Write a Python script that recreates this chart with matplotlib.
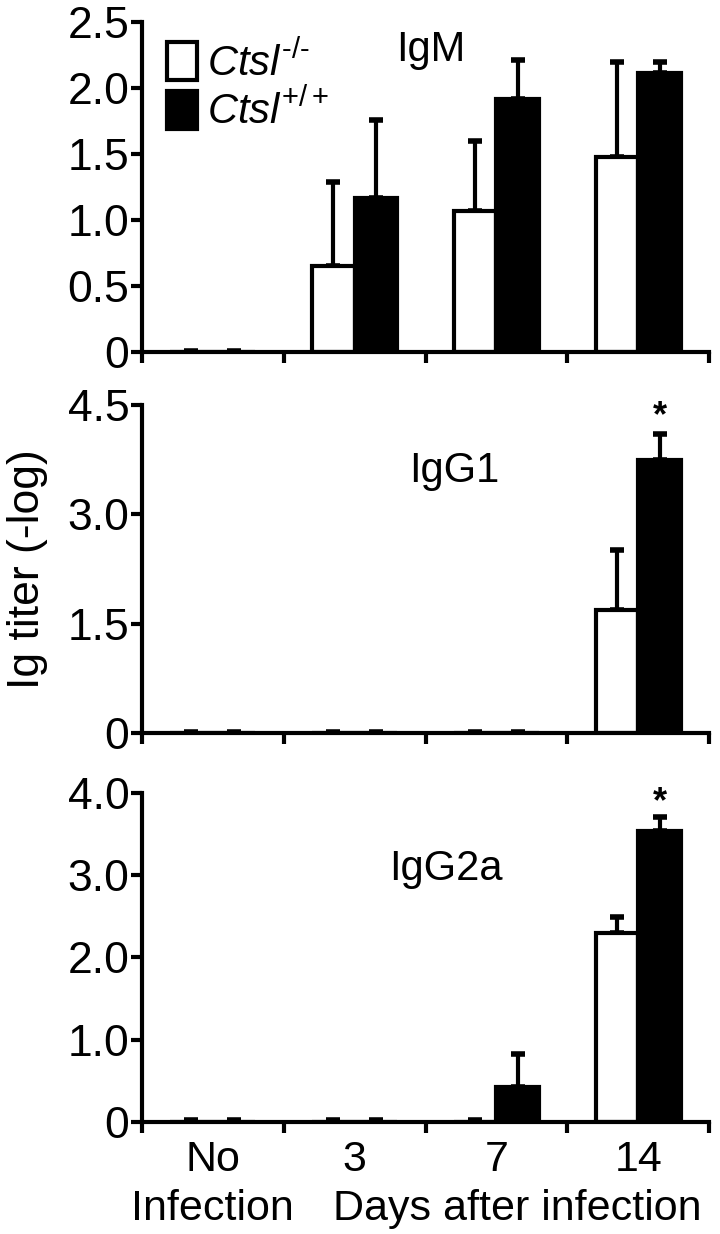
import numpy as np
import matplotlib
matplotlib.use("Agg")
import matplotlib.pyplot as plt
from matplotlib.patches import Patch

plt.rcParams['font.family'] = ['Liberation Sans', 'DejaVu Sans']
plt.rcParams['mathtext.fontset'] = 'custom'
plt.rcParams['mathtext.rm'] = 'Liberation Sans'
plt.rcParams['mathtext.it'] = 'Liberation Sans:italic'

groups = ['No', '3', '7', '14']

igm_ko = [0.0, 0.65, 1.07, 1.48]
igm_ko_err = [0.01, 0.64, 0.53, 0.72]
igm_wt = [0.0, 1.17, 1.92, 2.11]
igm_wt_err = [0.01, 0.59, 0.29, 0.09]

igg1_ko = [0.0, 0.0, 0.0, 1.69]
igg1_ko_err = [0.02, 0.02, 0.02, 0.82]
igg1_wt = [0.0, 0.0, 0.0, 3.74]
igg1_wt_err = [0.02, 0.02, 0.02, 0.36]

igg2a_ko = [0.0, 0.0, 0.0, 2.30]
igg2a_ko_err = [0.02, 0.02, 0.02, 0.19]
igg2a_wt = [0.0, 0.0, 0.43, 3.54]
igg2a_wt_err = [0.02, 0.02, 0.40, 0.17]

panels = [
    ('IgM', igm_ko, igm_ko_err, igm_wt, igm_wt_err, 2.5, [0, 0.5, 1.0, 1.5, 2.0, 2.5], ['0', '0.5', '1.0', '1.5', '2.0', '2.5'], []),
    ('IgG1', igg1_ko, igg1_ko_err, igg1_wt, igg1_wt_err, 4.5, [0, 1.5, 3.0, 4.5], ['0', '1.5', '3.0', '4.5'], [3]),
    ('IgG2a', igg2a_ko, igg2a_ko_err, igg2a_wt, igg2a_wt_err, 4.0, [0, 1.0, 2.0, 3.0, 4.0], ['0', '1.0', '2.0', '3.0', '4.0'], [3]),
]

fig = plt.figure(figsize=(7.2, 12.34), dpi=100)
rects = [
    [0.197, 0.7147, 0.788, 0.2675],
    [0.197, 0.4060, 0.788, 0.2658],
    [0.197, 0.0908, 0.788, 0.2666],
]
title_pos = [(0.51, 0.915), (0.55, 0.80), (0.535, 0.77)]
star_gap = [0, 0.24, 0.17]

x = np.arange(len(groups))
w = 0.3
for i, (name, ko, koe, wt, wte, ymax, yt, ytl, stars) in enumerate(panels):
    ax = fig.add_axes(rects[i])
    ax.bar(x - w / 2, ko, w, color='white', edgecolor='black', linewidth=3, zorder=2)
    ax.bar(x + w / 2, wt, w, color='black', edgecolor='black', linewidth=3, zorder=2)
    ax.errorbar(x - w / 2, ko, yerr=[np.zeros(4), koe], fmt='none', ecolor='black',
                elinewidth=3, capsize=5, capthick=4, zorder=1)
    ax.errorbar(x + w / 2, wt, yerr=[np.zeros(4), wte], fmt='none', ecolor='black',
                elinewidth=3, capsize=5, capthick=4, zorder=1)
    for s in stars:
        ax.text(s + w / 2, wt[s] + wte[s] + star_gap[i], '*', ha='center', va='center',
                fontsize=26, fontweight='bold')
    ax.set_xlim(-0.5, 3.5)
    ax.set_ylim(0, ymax)
    ax.set_yticks(yt)
    ax.set_yticklabels(ytl)
    ax.set_xticks([-0.5, 0.5, 1.5, 2.5, 3.5])
    ax.set_xticklabels([])
    for sp in ['top', 'right']:
        ax.spines[sp].set_visible(False)
    for sp in ['left', 'bottom']:
        ax.spines[sp].set_linewidth(3)
    ax.tick_params(axis='both', direction='out', length=8, width=3, labelsize=32, pad=1)
    ax.text(title_pos[i][0], title_pos[i][1], name, transform=ax.transAxes,
            ha='center', va='center', fontsize=30)
    if i == 0:
        handles = [Patch(facecolor='white', edgecolor='black', linewidth=3),
                   Patch(facecolor='black', edgecolor='black', linewidth=3)]
        ax.legend(handles, ['$\\mathit{Ctsl}^{\u2010/\u2010}$', r'$\mathit{Ctsl}^{+/+}$'],
                  loc='upper left', bbox_to_anchor=(0.045, 0.94), frameon=False,
                  fontsize=30, handlelength=0.7, handleheight=1.05, handletextpad=0.25,
                  labelspacing=0.15, borderaxespad=0, borderpad=0)
    if i == 1:
        ax.set_ylabel('Ig titer (-log)', fontsize=32, labelpad=14)
    if i == 2:
        for gx, g in zip(x, groups):
            ax.text(gx, -0.115, g, transform=ax.get_xaxis_transform(),
                    ha='center', va='center', fontsize=31)
        ax.text(x[0], -0.265, 'Infection', transform=ax.get_xaxis_transform(),
                ha='center', va='center', fontsize=31)
        ax.text(2.15, -0.265, 'Days after infection', transform=ax.get_xaxis_transform(),
                ha='center', va='center', fontsize=31)

fig.savefig('out.png', dpi=100)
